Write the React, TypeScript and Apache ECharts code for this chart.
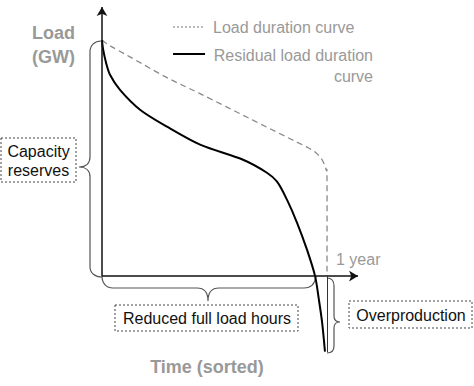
import React, { useEffect, useRef } from "react";
import * as echarts from "echarts";

// Time axis: share of the year in % (100 = 1 year); load in arbitrary GW units (peak = 100)
const loadTime = [0, 3.6, 12.4, 28.9, 43.6, 65.8, 83.6, 91.6, 95.1, 97.8, 99.6, 100, 100];
const loadValues = [100, 97.6, 92.9, 84.1, 77.3, 66.7, 58.2, 54.4, 52.3, 49.3, 45.1, 40.8, 0];

const residualTime = [0, 0.44, 1.8, 3.56, 8, 16.9, 28.9, 43.6, 62.7, 73.3, 77.8, 82.2, 86.7, 91.1, 94.7, 96.4, 97.8, 99.1];
const residualValues = [100, 96.4, 90.4, 85.3, 78.9, 70.5, 63.3, 55.7, 49.3, 43.8, 40, 32.4, 22.6, 11.2, 0, -10, -19.4, -32];

const seriesNames = ["Load duration curve", "Residual load duration\ncurve"];
const yearEnd = 100;
const axisXEnd = 113.8;
const axisYEnd = 114;
const overproductionMin = -32.2;

const FONT = "Liberation Sans, Arial, Helvetica, sans-serif";
const GRAY = "#999999";

// Catmull-Rom -> cubic Bezier path through given pixel points
function smoothPath(pts: number[][], tension = 0.5): string {
  let d = `M${pts[0][0]},${pts[0][1]}`;
  for (let i = 0; i < pts.length - 1; i++) {
    const p0 = pts[i - 1] || pts[i];
    const p1 = pts[i];
    const p2 = pts[i + 1];
    const p3 = pts[i + 2] || p2;
    const k = tension / 3;
    const c1 = [p1[0] + (p2[0] - p0[0]) * k, p1[1] + (p2[1] - p0[1]) * k];
    const c2 = [p2[0] - (p3[0] - p1[0]) * k, p2[1] - (p3[1] - p1[1]) * k];
    d += ` C${c1[0]},${c1[1]} ${c2[0]},${c2[1]} ${p2[0]},${p2[1]}`;
  }
  return d;
}

export default function App() {
  const ref = useRef<HTMLDivElement>(null);
  useEffect(() => {
    document.body.style.margin = "0";
    const chart = echarts.init(ref.current!, null, { renderer: "svg" });

    echarts.graphic.registerShape(
      "braceLeft",
      echarts.graphic.extendPath(
        "M101,41 C95,41 90,45 90,52 L90,157 C90,163 86,167 79,167 C86,167 90,171 90,177 L90,267 C90,273 95,277 102,277",
        {}
      )
    );
    echarts.graphic.registerShape(
      "braceBottom",
      echarts.graphic.extendPath(
        "M102,276 C102,283 106,288 113,288 L197,288 C204,288 208,292 208,301 C208,292 212,288 219,288 L304,288 C311,288 315,284 316,276",
        {}
      )
    );
    echarts.graphic.registerShape(
      "braceRight",
      echarts.graphic.extendPath(
        "M327,278 C332,278 334,281 334,286 L334,316 C334,320 336,322 340,322 C336,322 334,324 334,328 L334,346 C334,350 332,353 327,353",
        {}
      )
    );

    const braceStyle = { stroke: "#555", fill: "none", lineWidth: 1.2 };
    const boxStyle = { stroke: "#444", fill: "#fff", lineWidth: 1, lineDash: [2, 2] };
    const boxText = (x: number, y: number, text: string) => ({
      type: "text",
      x,
      y,
      style: { text, fill: "#111", font: `16px ${FONT}`, textAlign: "center", textVerticalAlign: "middle", lineHeight: 19 },
    });

    chart.setOption({
      animation: false,
      grid: { left: 102, width: axisXEnd * 2.25, top: 0, height: (117 + 35) * 2.36 },
      xAxis: { type: "value", min: 0, max: axisXEnd, show: false },
      yAxis: { type: "value", min: -35, max: 117, show: false },
      series: [
        {
          name: seriesNames[0],
          type: "custom",
          data: loadTime.map((t, i) => [t, loadValues[i]]),
          clip: false,
          z: 3,
          renderItem: (params: any, api: any) => {
            if (params.dataIndex !== 0) return null;
            const points = loadTime.map((t, i) => api.coord([t, loadValues[i]]));
            return {
              type: "path",
              shape: { pathData: smoothPath(points, 0.5) },
              style: { stroke: "#8a8a8a", fill: "none", lineWidth: 1.3, lineDash: [6, 4] },
            };
          },
        },
        {
          name: seriesNames[1],
          type: "line",
          data: residualTime.map((t, i) => [t, residualValues[i]]),
          showSymbol: false,
          smooth: 0.3,
          clip: false,
          lineStyle: { color: "#000", width: 2 },
          z: 4,
          markLine: {
            silent: true,
            label: { show: false },
            symbol: ["none", "none"],
            data: [
              [
                { coord: [0, 0], symbol: "none", lineStyle: { color: "#111", width: 1.5, type: "solid" } },
                { coord: [axisXEnd, 0], symbol: "arrow", symbolSize: [8, 9] },
              ],
              [
                { coord: [0, 0], symbol: "none", lineStyle: { color: "#111", width: 1.5, type: "solid" } },
                { coord: [0, axisYEnd], symbol: "arrow", symbolSize: [8, 9] },
              ],
              [
                { coord: [yearEnd, 0], symbol: "none", lineStyle: { color: "#333", width: 1, type: "solid" } },
                { coord: [yearEnd, overproductionMin], symbol: "none" },
              ],
            ],
          },
        },
      ],
      graphic: [
        // legend
        { type: "line", shape: { x1: 173, y1: 27, x2: 205, y2: 27 }, style: { stroke: "#777", lineWidth: 1, lineDash: [2, 2] } },
        { type: "text", x: 213, y: 27, style: { text: seriesNames[0], fill: GRAY, font: `16px ${FONT}`, textVerticalAlign: "middle" } },
        { type: "line", shape: { x1: 173, y1: 54, x2: 205, y2: 54 }, style: { stroke: "#000", lineWidth: 2 } },
        { type: "text", x: 373, y: 65.5, style: { text: seriesNames[1], fill: GRAY, font: `16px ${FONT}`, textAlign: "right", textVerticalAlign: "middle", lineHeight: 21 } },
        // axis titles
        { type: "text", x: 53.5, y: 45, style: { text: "Load\n(GW)", fill: GRAY, font: `bold 18px ${FONT}`, textAlign: "center", textVerticalAlign: "middle", lineHeight: 24 } },
        { type: "text", x: 207, y: 367, style: { text: "Time (sorted)", fill: GRAY, font: `bold 18px ${FONT}`, textAlign: "center", textVerticalAlign: "middle" } },
        { type: "text", x: 336, y: 259, style: { text: "1 year", fill: GRAY, font: `16px ${FONT}`, textVerticalAlign: "middle" } },
        // braces
        { type: "braceLeft", x: 0, y: 0, style: braceStyle },
        { type: "braceBottom", x: 0, y: 0, style: braceStyle },
        { type: "braceRight", x: 0, y: 0, style: braceStyle },
        // boxes
        { type: "rect", shape: { x: 1, y: 138, width: 75, height: 44 }, style: boxStyle },
        boxText(38.5, 161, "Capacity\nreserves"),
        { type: "rect", shape: { x: 115, y: 305, width: 183, height: 26 }, style: boxStyle },
        boxText(207, 318, "Reduced full load hours"),
        { type: "rect", shape: { x: 349, y: 301, width: 123, height: 27 }, style: boxStyle },
        boxText(411, 315, "Overproduction"),
      ],
    });
    return () => chart.dispose();
  }, []);
  return <div ref={ref} style={{ position: "absolute", left: 0, top: 0, width: 474, height: 386 }} />;
}
